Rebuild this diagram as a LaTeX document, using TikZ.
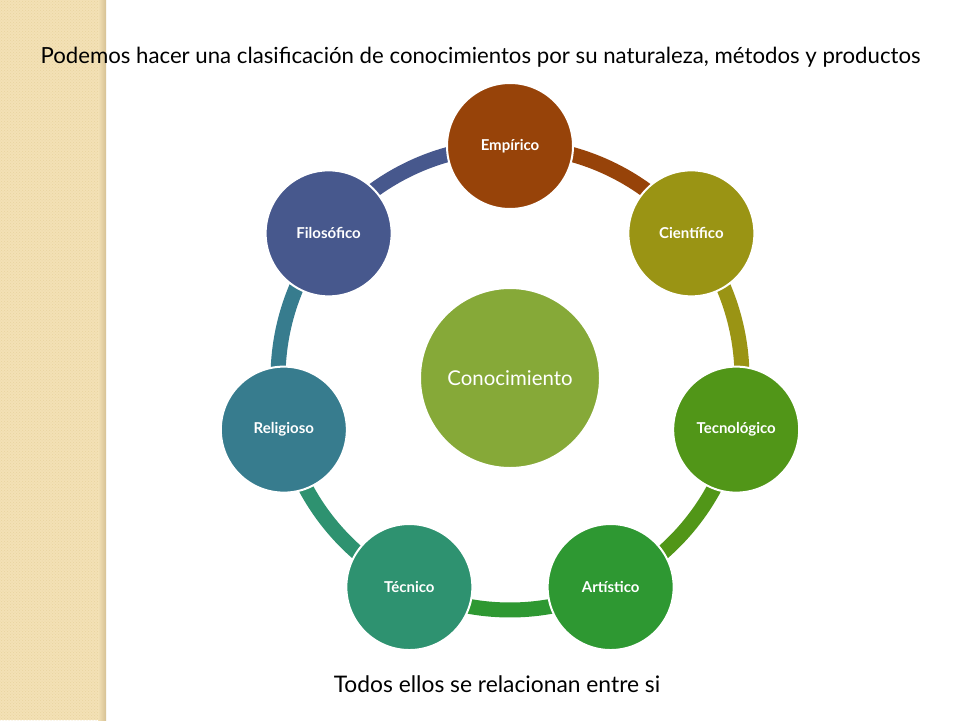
\documentclass[tikz,border=0pt]{standalone}
\usepackage{fontspec}
\setmainfont{Lato}
\usetikzlibrary{backgrounds,patterns,calc}
\definecolor{cEmp}{HTML}{974309}
\definecolor{cCie}{HTML}{9A9414}
\definecolor{cTec}{HTML}{519618}
\definecolor{cArt}{HTML}{2E9832}
\definecolor{cTcn}{HTML}{2E9270}
\definecolor{cRel}{HTML}{377C8E}
\definecolor{cFil}{HTML}{47588D}
\definecolor{cCon}{HTML}{86A938}
\definecolor{band}{HTML}{F3E1B5}
\definecolor{banddot}{HTML}{E9D3A0}
\definecolor{bandedge}{HTML}{D6C194}
\tikzset{
  item/.style={circle, minimum size=126pt, inner sep=0pt, draw=white, line width=2pt,
    text=white, font=\fontsize{15}{18}\selectfont\bfseries},
  hub/.style={circle, minimum size=180pt, inner sep=0pt, fill=cCon, draw=white, line width=2pt,
    text=white, font=\fontsize{20.4}{24}\selectfont},
  ring/.style={line width=15pt},
  caption/.style={text=black, inner sep=0pt}
}
\begin{document}
\begin{tikzpicture}[x=1pt,y=1pt]
\useasboundingbox (0,0) rectangle (960,-720);
% hub and items
\coordinate (c) at (510,-378);
\node[hub] (con) at (c) {Conocimiento};
\node[item, fill=cEmp] (emp) at ($(c)+(90:232)$) {Empírico};
\node[item, fill=cCie] (cie) at ($(c)+(38.571:232)$) {Científico};
\node[item, fill=cTec] (tec) at ($(c)+(-12.857:232)$) {Tecnológico};
\node[item, fill=cArt] (art) at ($(c)+(-64.286:232)$) {Artístico};
\node[item, fill=cTcn] (tcn) at ($(c)+(-115.714:232)$) {Técnico};
\node[item, fill=cRel] (rel) at ($(c)+(-167.143:232)$) {Religioso};
\node[item, fill=cFil] (fil) at ($(c)+(141.429:232)$) {Filosófico};
\begin{pgfonlayer}{background}
\fill[white] (0,0) rectangle (960,-720);
% left decorative band
\fill[band] (0,0) rectangle (106,-720);
\fill[pattern=crosshatch dots, pattern color=banddot] (0,0) rectangle (100,-720);
\shade[left color=band, right color=bandedge] (98,0) rectangle (106,-720);
% connecting arcs
\draw[ring, cEmp] (emp.center) arc[start angle=90, end angle=38.571, radius=232];
\draw[ring, cCie] (cie.center) arc[start angle=38.571, end angle=-12.857, radius=232];
\draw[ring, cTec] (tec.center) arc[start angle=-12.857, end angle=-64.286, radius=232];
\draw[ring, cArt] (art.center) arc[start angle=-64.286, end angle=-115.714, radius=232];
\draw[ring, cTcn] (tcn.center) arc[start angle=-115.714, end angle=-167.143, radius=232];
\draw[ring, cRel] (rel.center) arc[start angle=-167.143, end angle=-218.571, radius=232];
\draw[ring, cFil] (fil.center) arc[start angle=141.429, end angle=90, radius=232];
\end{pgfonlayer}
% texts
\node[caption, font=\fontsize{22.2}{26}\selectfont] (title) at (480.5,-57) {Podemos hacer una clasificación de conocimientos por su naturaleza, métodos y productos};
\node[caption, font=\fontsize{22.8}{27}\selectfont] (foot) at (497,-684) {Todos ellos se relacionan entre si};
\end{tikzpicture}
\end{document}
